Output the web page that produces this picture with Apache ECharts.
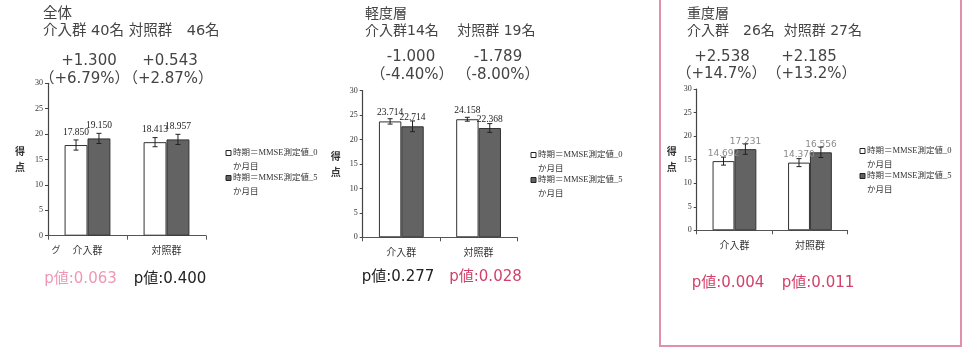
<!DOCTYPE html>
<html>
<head>
<meta charset="utf-8">
<script src="https://cdn.jsdelivr.net/npm/echarts@6/dist/echarts.min.js"></script>
<style>
  html, body { margin: 0; padding: 0; background: #fff; }
  #chart { width: 968px; height: 348px; }
</style>
</head>
<body>
<div id="chart"></div>
<script>
// ---- data ----
const categories = ['介入群', '対照群'];
const seriesNames = ['時期＝MMSE測定値_0か月目', '時期＝MMSE測定値_5か月目'];

// 全体
const allBase = [17.850, 18.413];
const allPost = [19.150, 18.957];
const allBaseErr = [1.0, 0.9];
const allPostErr = [1.0, 1.0];

// 軽度層
const mildBase = [23.714, 24.158];
const mildPost = [22.714, 22.368];
const mildBaseErr = [0.55, 0.4];
const mildPostErr = [1.1, 0.9];

// 重度層
const severeBase = [14.692, 14.370];
const severePost = [17.231, 16.556];
const severeBaseErr = [0.85, 0.85];
const severePostErr = [1.1, 1.1];

const yMin = 0, yMax = 30, yStep = 5;

const panelTitles = ['全体', '軽度層', '重度層'];
const panelCounts = ['介入群 40名 対照群　46名', '介入群14名　 対照群 19名', '介入群　26名  対照群 27名'];
const diffLabels = [['+1.300', '+0.543'], ['-1.000', '-1.789'], ['+2.538', '+2.185']];
const pctLabels = [['（+6.79%）', '（+2.87%）'], ['（-4.40%）', '（-8.00%）'], ['（+14.7%）', '（+13.2%）']];
const pLabels = [['p値:0.063', 'p値:0.400'], ['p値:0.277', 'p値:0.028'], ['p値:0.004', 'p値:0.011']];

// ---- styling / layout ----
const SANS = '"DejaVu Sans", "Noto Sans CJK JP", sans-serif';
const SERIF = '"Liberation Serif", "Noto Sans CJK JP", serif';
const JP = '"Noto Sans CJK JP", sans-serif';
const HEAD = '#444444';
const PINK_LIGHT = '#ee98b3';
const PINK = '#d2416b';
const GAP = 0.42;            // barCategoryGap fraction

const panels = [
  { base: allBase, post: allPost, baseErr: allBaseErr, postErr: allPostErr,
    grid: { left: 48, top: 83.3, width: 158, height: 152.4 },
    headX: 43, headSize: 14.5, rows: [14, 31, 61, 79], diffX: [89, 170], pctX: [84.5, 168],
    pX: [80.5, 170], pY: 279, pColor: [PINK_LIGHT, '#222'],
    legX: 226, legY: 153, nameGap: 28, labelDist: 8, labelFont: SERIF, labelColor: '#222', labelSize: 9.5 },
  { base: mildBase, post: mildPost, baseErr: mildBaseErr, postErr: mildPostErr,
    grid: { left: 362.7, top: 90.7, width: 154.5, height: 146.6 },
    headX: 365, headSize: 14, rows: [14, 31, 57, 75], diffX: [411, 498], pctX: [412, 498],
    pX: [398, 485.5], pY: 277, pColor: ['#222', PINK],
    legX: 531, legY: 155, nameGap: 27, labelDist: 4, labelFont: SERIF, labelColor: '#222', labelSize: 9.5 },
  { base: severeBase, post: severePost, baseErr: severeBaseErr, postErr: severePostErr,
    grid: { left: 696.7, top: 89, width: 151, height: 141.3 },
    headX: 687, headSize: 14, rows: [14, 31, 57, 74], diffX: [722, 809], pctX: [721.5, 811.5],
    pX: [728, 818], pY: 283, pColor: [PINK, PINK],
    legX: 860, legY: 151, nameGap: 25, labelDist: 3, labelFont: SANS, labelColor: '#8a8a8a', labelSize: 9 }
];

const grids = [], xAxes = [], yAxes = [], series = [], graphics = [];

function errorBarRenderer(dir) {
  return function (params, api) {
    const cat = api.value(0), mean = api.value(1), err = api.value(2);
    const band = api.size([1, 0])[0];
    const off = dir * band * (1 - GAP) / 4;
    const hi = api.coord([cat, mean + err]);
    const lo = api.coord([cat, mean - err]);
    const x = hi[0] + off, cap = 2.5;
    const st = { stroke: '#222', lineWidth: 1 };
    return {
      type: 'group',
      children: [
        { type: 'line', shape: { x1: x, y1: hi[1], x2: x, y2: lo[1] }, style: st },
        { type: 'line', shape: { x1: x - cap, y1: hi[1], x2: x + cap, y2: hi[1] }, style: st },
        { type: 'line', shape: { x1: x - cap, y1: lo[1], x2: x + cap, y2: lo[1] }, style: st }
      ]
    };
  };
}

function txt(text, x, y, size, color, align, family) {
  return {
    type: 'text', x: x, y: y, silent: true,
    style: { text: text, fontSize: size, fontFamily: family || SANS, fill: color,
             align: align || 'left', verticalAlign: 'middle' }
  };
}

panels.forEach(function (p, i) {
  grids.push(Object.assign({ containLabel: false }, p.grid));
  xAxes.push({
    type: 'category', gridIndex: i, data: categories,
    axisLine: { lineStyle: { color: '#555', width: 1 } },
    axisTick: { show: true, length: 4, lineStyle: { color: '#555' } },
    axisLabel: { fontSize: 10, fontFamily: JP, color: '#333', margin: 10 }
  });
  yAxes.push({
    type: 'value', gridIndex: i, min: yMin, max: yMax, interval: yStep,
    name: '得\n点', nameLocation: 'middle', nameRotate: 0, nameGap: p.nameGap,
    nameTextStyle: { fontSize: 10, fontFamily: JP, fontWeight: 'bold', color: '#333',
                     lineHeight: 16, align: 'center', verticalAlign: 'middle' },
    axisLine: { show: true, lineStyle: { color: '#444', width: 1.2 } },
    axisTick: { show: true, length: 3, lineStyle: { color: '#444' } },
    axisLabel: { fontSize: 8, fontFamily: SERIF, color: '#333', margin: 5 },
    splitLine: { show: false }
  });

  const lbl = {
    show: true, position: 'top', distance: p.labelDist,
    fontSize: p.labelSize, fontFamily: p.labelFont, color: p.labelColor,
    formatter: function (d) { return d.value.toFixed(3); }
  };
  series.push({
    name: seriesNames[0], type: 'bar', xAxisIndex: i, yAxisIndex: i,
    data: p.base, barGap: '0%', barCategoryGap: (GAP * 100) + '%',
    itemStyle: { color: '#ffffff', borderColor: '#333', borderWidth: 1 },
    label: lbl, z: 2
  });
  series.push({
    name: seriesNames[1], type: 'bar', xAxisIndex: i, yAxisIndex: i,
    data: p.post, barGap: '0%', barCategoryGap: (GAP * 100) + '%',
    itemStyle: { color: '#636363', borderColor: '#333', borderWidth: 1 },
    label: lbl, z: 2
  });
  series.push({
    type: 'custom', xAxisIndex: i, yAxisIndex: i, z: 5,
    renderItem: errorBarRenderer(-1),
    encode: { x: 0, y: 1 },
    data: p.base.map(function (v, k) { return [k, v, p.baseErr[k]]; })
  });
  series.push({
    type: 'custom', xAxisIndex: i, yAxisIndex: i, z: 5,
    renderItem: errorBarRenderer(1),
    encode: { x: 0, y: 1 },
    data: p.post.map(function (v, k) { return [k, v, p.postErr[k]]; })
  });

  // headings
  graphics.push(txt(panelTitles[i], p.headX, p.rows[0], p.headSize, HEAD));
  graphics.push(txt(panelCounts[i], p.headX, p.rows[1], p.headSize, HEAD));
  for (let k = 0; k < 2; k++) {
    graphics.push(txt(diffLabels[i][k], p.diffX[k], p.rows[2], 15, HEAD, 'center'));
    graphics.push(txt(pctLabels[i][k], p.pctX[k], p.rows[3], 15, HEAD, 'center'));
    graphics.push(txt(pLabels[i][k], p.pX[k], p.pY, 15, p.pColor[k], 'center'));
  }

  // legend
  const fills = ['#ffffff', '#636363'];
  for (let k = 0; k < 2; k++) {
    const y0 = p.legY + k * 25;
    graphics.push({ type: 'rect', silent: true,
      shape: { x: p.legX, y: y0 - 2.5, width: 5, height: 5 },
      style: { fill: fills[k], stroke: '#222', lineWidth: 1 } });
    const nm = seriesNames[k];
    graphics.push(txt(nm.slice(0, nm.length - 3), p.legX + 7, y0, 8.5, '#333', 'left', SERIF));
    graphics.push(txt(nm.slice(nm.length - 3), p.legX + 7, y0 + 14, 8.5, '#333', 'left', SERIF));
  }
});

// stray axis caption fragment in the first panel
graphics.push(txt('グ', 56, 250, 9, '#444', 'center', JP));

// frame around the 重度層 panel
graphics.push({ type: 'rect', silent: true,
  shape: { x: 660, y: -3, width: 301, height: 349 },
  style: { fill: 'none', stroke: '#e090a9', lineWidth: 2 } });

const chart = echarts.init(document.getElementById('chart'), null, { renderer: 'canvas' });
chart.setOption({
  animation: false,
  backgroundColor: '#ffffff',
  grid: grids,
  xAxis: xAxes,
  yAxis: yAxes,
  series: series,
  graphic: graphics
});
</script>
</body>
</html>
